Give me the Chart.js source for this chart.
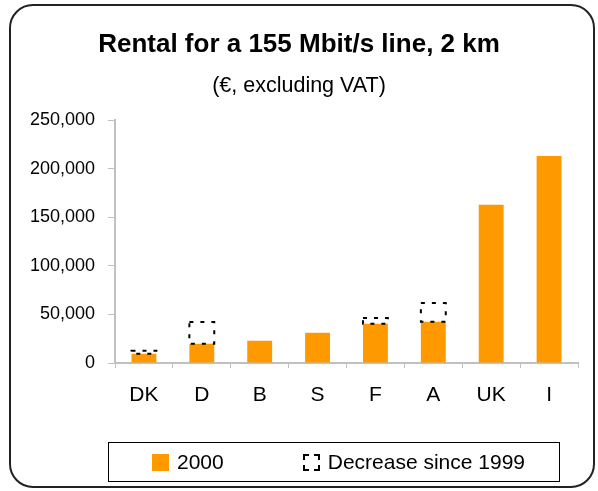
<!DOCTYPE html>
<html>
<head>
<meta charset="utf-8">
<script src="https://cdn.jsdelivr.net/npm/chart.js@4.4.0/dist/chart.umd.min.js"></script>
<style>
  html, body {
    margin: 0;
    background: #fff;
  }
  #wrap {
    position: relative;
    width: 598px;
    height: 491px;
    font-family: "Liberation Sans", Arial, sans-serif;
  }
  #frame {
    position: absolute;
    left: 9px;
    top: 4px;
    width: 586px;
    height: 484px;
    border: 2px solid #222;
    border-radius: 24px;
    box-sizing: border-box;
    pointer-events: none;
  }
  #legend {
    position: absolute;
    left: 108px;
    top: 442px;
    width: 452px;
    height: 40px;
    border: 1px solid #000;
    box-sizing: border-box;
    display: flex;
    align-items: center;
    padding-left: 43px;
    gap: 79px;
    font-size: 21px;
    color: #000;
  }
  #legend .item {
    display: flex;
    align-items: center;
  }
  #legend .swatch {
    width: 17px;
    height: 17px;
    margin-right: 8px;
    box-sizing: border-box;
  }
</style>
</head>
<body>
<div id="wrap">
  <canvas id="rental-chart" width="598" height="491"></canvas>
  <div id="legend"></div>
  <div id="frame"></div>
</div>
<script>
const countries = ['DK', 'D', 'B', 'S', 'F', 'A', 'UK', 'I'];
const rental2000 = [9500, 19800, 22900, 31100, 40400, 42400, 162700, 213000];
// Drop since 1999, stacked on top of the 2000 value (0 = no decrease shown)
const decreaseSince1999 = [3100, 22300, 0, 0, 5800, 19300, 0, 0];
const yTicks = [0, 50000, 100000, 150000, 200000, 250000];

const fontFamily = '"Liberation Sans", Arial, sans-serif';
const orange = '#ff9900';
const axisGrey = '#c0c0c0';

Chart.defaults.font.family = fontFamily;
Chart.defaults.color = '#000';

// Dashed outline for the "decrease" part of each bar
const dashedOutline = {
  id: 'dashedOutline',
  afterDatasetsDraw(chart) {
    const meta = chart.getDatasetMeta(1);
    const ctx = chart.ctx;
    ctx.save();
    ctx.strokeStyle = '#000';
    ctx.lineWidth = 2;
    ctx.setLineDash([4, 7]);
    meta.data.forEach((bar, i) => {
      if (!decreaseSince1999[i]) return;
      const {x, y, base, width} = bar.getProps(['x', 'y', 'base', 'width'], true);
      ctx.strokeRect(x - width / 2, y, width, base - y);
    });
    ctx.restore();
  },
};

// Boxed legend built from the datasets
const htmlLegend = {
  id: 'htmlLegend',
  afterUpdate(chart) {
    const box = document.querySelector('#legend');
    box.innerHTML = '';
    chart.data.datasets.forEach(ds => {
      const item = document.createElement('span');
      item.className = 'item';
      const swatch = document.createElement('span');
      swatch.className = 'swatch';
      if (ds.dashed) {
        swatch.style.border = '2px dashed #000';
      } else {
        swatch.style.background = ds.backgroundColor;
      }
      const text = document.createElement('span');
      text.textContent = ds.label;
      item.appendChild(swatch);
      item.appendChild(text);
      box.appendChild(item);
    });
  },
};

new Chart(document.querySelector('#rental-chart'), {
  type: 'bar',
  data: {
    labels: countries,
    datasets: [{
      label: '2000',
      data: rental2000,
      backgroundColor: orange,
      borderWidth: 0,
      barPercentage: 0.43,
      categoryPercentage: 1,
    }, {
      label: 'Decrease since 1999',
      data: decreaseSince1999,
      backgroundColor: 'rgba(0, 0, 0, 0)',
      borderWidth: 0,
      barPercentage: 0.43,
      categoryPercentage: 1,
      dashed: true,
    }],
  },
  options: {
    responsive: false,
    devicePixelRatio: 1,
    animation: false,
    layout: {
      padding: {left: 20, right: 20, top: 0, bottom: 78},
    },
    scales: {
      x: {
        stacked: true,
        afterFit: scale => { scale.height = 50; },
        grid: {
          drawOnChartArea: false,
          tickLength: 5,
          color: axisGrey,
        },
        border: {color: axisGrey, width: 2},
        ticks: {
          font: {size: 21},
          padding: 15,
        },
      },
      y: {
        stacked: true,
        min: 0,
        max: 250000,
        afterFit: scale => { scale.width = 95; },
        afterBuildTicks: scale => { scale.ticks = yTicks.map(v => ({value: v})); },
        grid: {
          drawOnChartArea: false,
          tickLength: 7,
          color: axisGrey,
        },
        border: {color: axisGrey, width: 2},
        ticks: {
          font: {size: 18},
          padding: 13,
          callback: value => value.toLocaleString('en-US'),
        },
      },
    },
    plugins: {
      legend: {display: false},
      tooltip: {enabled: false},
      title: {
        display: true,
        text: 'Rental for a 155 Mbit/s line, 2 km',
        color: '#000',
        font: {size: 26, weight: 'bold'},
        padding: {top: 29.4, bottom: 0},
      },
      subtitle: {
        display: true,
        text: '(€, excluding VAT)',
        color: '#000',
        font: {size: 21.5},
        padding: {top: 12.9, bottom: 20.7},
      },
    },
  },
  plugins: [dashedOutline, htmlLegend],
});
</script>
</body>
</html>
